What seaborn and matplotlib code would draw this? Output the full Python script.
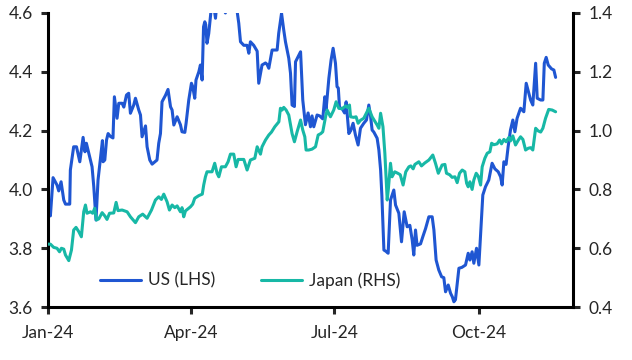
import pandas as pd
import matplotlib
matplotlib.use("Agg")
import matplotlib.pyplot as plt
import matplotlib.dates as mdates
import seaborn as sns

# day offsets from 1 Jan 2024 and values
us_days = [0, 0.5, 1.5, 3.2, 5.7, 6.8, 8.3, 10, 11.1, 13.8, 14.2, 16.3, 18.1, 20.2, 22.3, 23.5, 24.4,
           27, 28, 29.1, 30.5, 31.8, 33.7, 34.6, 35, 36.1, 37.2, 38.2, 39.7, 41.3, 42.2, 43.9, 45,
           47.1, 48.2, 49.9, 51.3, 52.4, 54.5, 55.6, 57.7, 58.8, 59.8, 62, 63, 64.7, 66.2, 69.3,
           70.4, 71.5, 72.5, 74.7, 76.3, 77.9, 78.9, 80, 82.1, 84.2, 85.2, 87, 87.8, 89.5, 91.2,
           92, 93.3, 94.1, 95.9, 96.9, 98, 98.9, 99.7, 100.3, 101.1, 102.2, 103.9, 105, 106.5,
           107.3, 109.9, 112.8, 115, 118, 120.4, 121.3, 122.4, 124.5, 126.6, 127.7, 128.7, 130.8,
           133, 134, 136.1, 138.3, 139.3, 140.4, 142.5, 145.7, 146.7, 148.5, 149.9, 151, 153.1,
           154.2, 155.2, 156.7, 157.4, 160.6, 162, 163.7, 165.4, 166.9, 167.9, 169, 171.1, 172.8,
           174.7, 176, 176.8, 178.6, 180, 181.3, 182.8, 183.8, 184.6, 185.4, 186.9, 188.6, 189.6,
           191.3, 192.5, 194, 195.5, 197.2, 198.7, 200.8, 202.5, 204, 205.1, 206.1, 207.2, 209.3,
           210.4, 211.5, 212.3, 213.6, 214.8, 216.3, 217.8, 219.9, 221, 223.1, 224.8, 226.5, 228.4,
           230.1, 231.6, 232.6, 233.7, 234.7, 236.9, 238.4, 240.1, 242.2, 244.3, 245.4, 246.8,
           248.5, 250.3, 251.7, 252.8, 254.5, 256, 257.1, 258.1, 259.1, 261.3, 263.2, 265.5, 267.2,
           268.3, 269.7, 270.8, 272.5, 274, 275.1, 276.5, 278.2, 280.3, 282.4, 284.2, 286.3, 287.8,
           288.8, 289.9, 291.3, 292.6, 294.1, 295.6, 296.9, 298.3, 300.5, 302.6, 304.1, 305.8,
           306.9, 308.3, 310.1, 311.1, 313.3, 314.7, 315.6, 316.8, 318.1, 320.2, 321.7, 322.8]
us_yield = [3.86, 3.94, 3.91, 4.04, 4.015, 3.995, 4.026, 3.964, 3.95, 3.95, 4.066, 4.145, 4.145, 4.094,
            4.177, 4.128, 4.157, 4.10, 4.077, 4.009, 3.896, 4.032, 4.123, 4.166, 4.094, 4.10, 4.168,
            4.19, 4.18, 4.175, 4.315, 4.242, 4.293, 4.293, 4.28, 4.321, 4.327, 4.259, 4.287, 4.31,
            4.27, 4.253, 4.179, 4.216, 4.145, 4.10, 4.086, 4.10, 4.157, 4.19, 4.298, 4.32, 4.34,
            4.281, 4.27, 4.219, 4.247, 4.22, 4.196, 4.194, 4.225, 4.304, 4.361, 4.35, 4.31, 4.372,
            4.40, 4.423, 4.372, 4.553, 4.57, 4.56, 4.497, 4.53, 4.62, 4.64, 4.582, 4.63, 4.66, 4.60,
            4.65, 4.66, 4.60, 4.565, 4.502, 4.49, 4.49, 4.463, 4.502, 4.49, 4.47, 4.361, 4.423, 4.43,
            4.425, 4.412, 4.474, 4.474, 4.531, 4.599, 4.542, 4.502, 4.446, 4.395, 4.287, 4.282,
            4.434, 4.468, 4.304, 4.22, 4.26, 4.213, 4.25, 4.213, 4.253, 4.25, 4.24, 4.315, 4.27,
            4.378, 4.44, 4.48, 4.429, 4.349, 4.345, 4.276, 4.276, 4.26, 4.298, 4.19, 4.20, 4.225,
            4.185, 4.151, 4.208, 4.225, 4.236, 4.287, 4.25, 4.202, 4.195, 4.174, 4.134, 4.066, 3.98,
            3.794, 3.79, 3.783, 3.964, 3.998, 3.947, 3.919, 3.822, 3.924, 3.873, 3.878, 3.828, 3.777,
            3.862, 3.81, 3.815, 3.84, 3.867, 3.907, 3.907, 3.862, 3.760, 3.726, 3.703, 3.70, 3.652,
            3.675, 3.647, 3.635, 3.618, 3.625, 3.732, 3.735, 3.743, 3.783, 3.76, 3.788, 3.749, 3.80,
            3.743, 3.85, 3.981, 4.009, 4.032, 4.089, 4.07, 4.06, 4.043, 4.015, 4.094, 4.085, 4.145,
            4.202, 4.236, 4.196, 4.242, 4.276, 4.264, 4.361, 4.327, 4.304, 4.287, 4.429, 4.31,
            4.304, 4.304, 4.429, 4.449, 4.423, 4.41, 4.406, 4.381]

jp_days = [0, 1.5, 3.6, 5.7, 7.3, 8.5, 10, 11.1, 13.2, 14.9, 16.3, 17.8, 19.5, 21.2, 22.7, 23.8, 24.8,
           27, 28.4, 29.7, 30.8, 32.3, 34.4, 36.1, 37.5, 39.1, 41.8, 43.3, 44.5, 47.1, 50.3, 52.4,
           55.6, 57.7, 60.2, 63, 65.8, 68.3, 70.4, 72.1, 73.6, 75.7, 77.2, 78.9, 80.6, 82.1, 84.2,
           85.2, 86.3, 87.4, 90.6, 92, 93.3, 95.9, 98.1, 99, 100.1, 101.1, 104.3, 106, 107.5, 108.6,
           110.3, 112.8, 114.5, 116, 118.1, 119.6, 120.9, 124.5, 126.6, 128.7, 131.5, 133, 135.1,
           136.1, 138.3, 140.4, 142.1, 144.2, 146.8, 147.8, 148.9, 149.9, 151.4, 153.1, 155.2,
           156.7, 158.4, 160.6, 162, 163.3, 164.1, 165.8, 167.9, 170.1, 171.8, 173.5, 174.7, 176.5,
           177.5, 179.6, 181.7, 183.2, 184.9, 187, 189.2, 190.6, 191.7, 192.4, 194.4, 195.9, 197.2,
           198.7, 200.8, 204, 206.1, 209.3, 210.4, 211.5, 213, 214.2, 215.7, 216.4, 217.8, 218.8,
           220.5, 222.4, 224, 225.8, 227.5, 229.5, 230.7, 232.2, 233.3, 235.8, 237.5, 239.6, 242.2,
           244.7, 246.4, 248.2, 250.6, 252.4, 253.4, 255.4, 257, 258.8, 260.2, 261.7, 263.4, 265.1,
           266.2, 267.2, 268.3, 269.7, 270.8, 272.3, 273.6, 275.1, 276.1, 277.8, 279.3, 281, 282.1,
           283.5, 285.6, 287.2, 288.4, 289.9, 291.3, 293.1, 294.1, 295.6, 297.3, 299, 300.5, 302,
           303.7, 305.4, 306.9, 308.3, 310.1, 311.7, 313.3, 314.7, 316.4, 318.4, 320.6, 322.8]
jp_yield = [0.614, 0.614, 0.603, 0.60, 0.588, 0.60, 0.597, 0.577, 0.558, 0.594, 0.662, 0.671, 0.657,
            0.639, 0.724, 0.747, 0.719, 0.724, 0.719, 0.736, 0.696, 0.70, 0.721, 0.71, 0.698, 0.719,
            0.72, 0.756, 0.728, 0.73, 0.724, 0.707, 0.687, 0.707, 0.716, 0.702, 0.73, 0.764, 0.775,
            0.766, 0.784, 0.758, 0.73, 0.747, 0.738, 0.744, 0.724, 0.738, 0.707, 0.727, 0.741, 0.75,
            0.77, 0.779, 0.784, 0.815, 0.843, 0.86, 0.86, 0.889, 0.855, 0.843, 0.877, 0.877, 0.894,
            0.92, 0.92, 0.877, 0.902, 0.902, 0.866, 0.90, 0.906, 0.945, 0.92, 0.945, 0.968, 0.985,
            0.995, 1.013, 1.03, 1.076, 1.07, 1.079, 1.07, 1.053, 0.99, 0.962, 0.996, 1.036, 1.002,
            0.979, 0.934, 0.934, 0.937, 0.945, 0.985, 0.99, 0.996, 1.047, 1.07, 1.047, 1.07, 1.098,
            1.076, 1.074, 1.084, 1.078, 1.087, 1.047, 1.045, 1.047, 1.025, 1.035, 1.042, 1.076,
            1.047, 1.019, 1.008, 1.059, 1.013, 0.923, 0.764, 0.80, 0.889, 0.843, 0.86, 0.855, 0.85,
            0.815, 0.86, 0.877, 0.88, 0.87, 0.885, 0.894, 0.88, 0.89, 0.90, 0.917, 0.889, 0.855,
            0.883, 0.885, 0.855, 0.85, 0.841, 0.843, 0.823, 0.855, 0.866, 0.86, 0.821, 0.809, 0.826,
            0.80, 0.832, 0.855, 0.845, 0.815, 0.877, 0.906, 0.923, 0.928, 0.957, 0.952, 0.955, 0.968,
            0.955, 0.97, 0.962, 0.977, 0.965, 0.982, 0.951, 0.967, 0.979, 0.97, 0.934, 0.94, 0.942,
            0.934, 1.008, 0.999, 0.995, 1.008, 1.042, 1.072, 1.07, 1.064]

tick_dates = ["2024-01-01", "2024-04-01", "2024-07-01", "2024-10-01"]

start = pd.Timestamp("2024-01-01")
us = pd.DataFrame({"date": start + pd.to_timedelta(us_days, unit="D"), "value": us_yield})
jp = pd.DataFrame({"date": start + pd.to_timedelta(jp_days, unit="D"), "value": jp_yield})

sns.set_style("white")
plt.rcParams["font.family"] = ["Lato", "DejaVu Sans"]

US_COL = "#1f56d2"
JP_COL = "#17b8a6"
FS = 12.5

fig = plt.figure(figsize=(6.32, 3.6), dpi=100)
ax = fig.add_axes([0.076, 0.147, 0.831, 0.817])
ax2 = ax.twinx()

sns.lineplot(data=us, x="date", y="value", ax=ax, color=US_COL, lw=2.2, label="US (LHS)", legend=False)
sns.lineplot(data=jp, x="date", y="value", ax=ax2, color=JP_COL, lw=2.2, label="Japan (RHS)", legend=False)

ax.set_ylim(3.6, 4.6)
ax2.set_ylim(0.4, 1.4)
ax.set_yticks([3.6, 3.8, 4.0, 4.2, 4.4, 4.6])
ax2.set_yticks([0.4, 0.6, 0.8, 1.0, 1.2, 1.4])
ax.set_xlim(start, pd.Timestamp("2024-11-30"))
ax.set_xticks(pd.to_datetime(tick_dates))
ax.xaxis.set_major_formatter(mdates.DateFormatter("%b-%y"))
ax.set_xlabel("")
ax.set_ylabel("")
ax2.set_xlabel("")
ax2.set_ylabel("")

for a in (ax, ax2):
    a.spines["top"].set_visible(False)
    for s in ("left", "right", "bottom"):
        a.spines[s].set_linewidth(2.2)
        a.spines[s].set_color("black")
ax.spines["right"].set_visible(False)
ax2.spines["left"].set_visible(False)
ax2.spines["bottom"].set_visible(False)

ax.tick_params(axis="y", direction="out", length=5, width=2.2, pad=6, labelsize=FS, left=True)
ax.tick_params(axis="x", direction="out", length=5, width=2.2, pad=8, labelsize=FS, bottom=True)
ax2.tick_params(axis="y", direction="out", length=5, width=2.2, pad=6, labelsize=FS, right=True)
ax.yaxis.set_major_formatter(matplotlib.ticker.FormatStrFormatter("%.1f"))
ax2.yaxis.set_major_formatter(matplotlib.ticker.FormatStrFormatter("%.1f"))

h1, l1 = ax.get_legend_handles_labels()
h2, l2 = ax2.get_legend_handles_labels()
ax.legend(h1 + h2, l1 + l2, loc="center", bbox_to_anchor=(0.385, 0.09), ncol=2, frameon=False,
          fontsize=FS, handlelength=2.4, columnspacing=2.6, handletextpad=0.4)

fig.savefig("out.png", dpi=100)
